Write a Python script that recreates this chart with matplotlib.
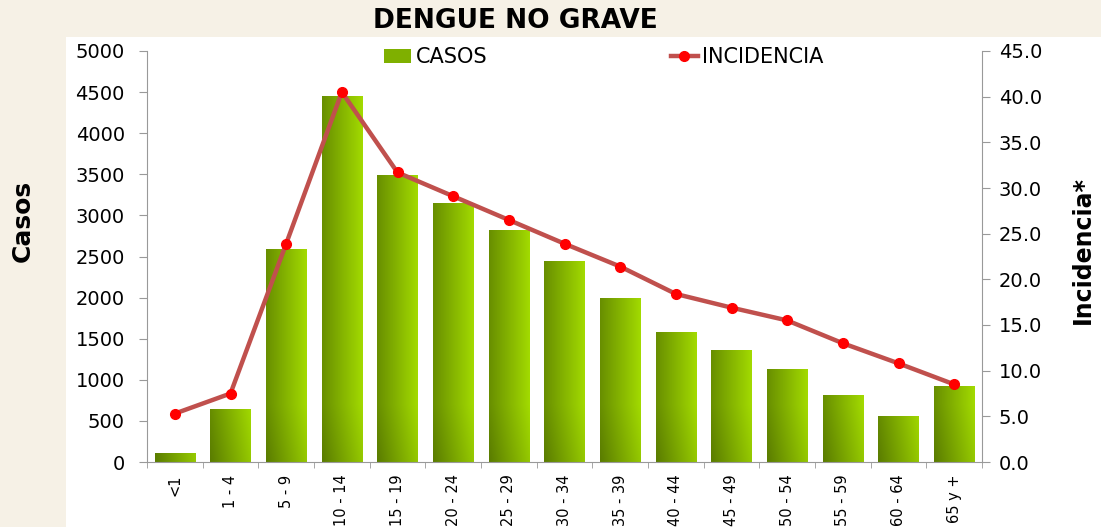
import numpy as np
import matplotlib
matplotlib.use("Agg")
import matplotlib.pyplot as plt
from matplotlib.patches import Rectangle
from matplotlib.lines import Line2D
from matplotlib.colors import LinearSegmentedColormap


grupos = ["<1", "1 - 4", "5 - 9", "10 - 14", "15 - 19", "20 - 24", "25 - 29",
          "30 - 34", "35 - 39", "40 - 44", "45 - 49", "50 - 54", "55 - 59",
          "60 - 64", "65 y +"]
casos = [110, 640, 2590, 4450, 3490, 3150, 2820, 2450, 2000, 1580, 1360,
         1130, 810, 560, 920]
incidencia = [5.3, 7.5, 23.9, 40.5, 31.7, 29.1, 26.5, 23.9, 21.4, 18.4,
              16.9, 15.5, 13.0, 10.8, 8.5]


W, H = 1101, 527
fig = plt.figure(figsize=(W / 100, H / 100), dpi=100)
fig.patch.set_facecolor("#f6f1e6")

# white panel behind the chart
fig.patches.append(
    Rectangle((66 / W, 0), 1 - 66 / W, 1 - 37 / H,
              transform=fig.transFigure, facecolor="white",
              edgecolor="none", zorder=-5)
)

ax = fig.add_axes([147 / W, 1 - 462 / H, (982 - 147) / W, (462 - 51) / H])
ax.set_facecolor("none")
ax2 = ax.twinx()

x = np.arange(len(grupos))
bars = ax.bar(x, casos, width=0.72, color="none", edgecolor="none", zorder=2)

verde = LinearSegmentedColormap.from_list("verde", ["#5a7c00", "#a2da00"])
for b in bars:
    x0, y0 = b.get_x(), b.get_y()
    w, h = b.get_width(), b.get_height()
    nx, ny = 40, 200
    u = np.linspace(0, 1, nx)[None, :]
    v = np.linspace(0, h, ny)[:, None]
    t = 0.8 * u + 0.2 * np.clip(v / 700, 0, 1)
    im = ax.imshow(t, cmap=verde, origin="lower", aspect="auto",
                   extent=[x0, x0 + w, y0, y0 + h], vmin=0, vmax=1, zorder=2)
    im.set_clip_path(b)

ax.set_xlim(-0.5, len(grupos) - 0.5)
ax.set_ylim(0, 5000)
ax.set_yticks(np.arange(0, 5001, 500))
ax.set_xticks(x)
ax.set_xticklabels(grupos, rotation=90, fontsize=10.5)
ax.set_xticks(np.arange(-0.5, len(grupos), 1), minor=True)
ax.tick_params(axis="x", which="major", length=0, pad=9)
ax.tick_params(axis="x", which="minor", length=4, color="#999999")
ax.tick_params(axis="y", length=6, color="#999999", labelsize=14, pad=10)

ax2.plot(x, incidencia, color="#c0504d", lw=3.2, marker="o", markersize=7,
         markerfacecolor="#ff0000", markeredgecolor="#ff0000", zorder=3)
ax2.set_ylim(0, 45)
ax2.set_yticks(np.arange(0, 45.1, 5))
ax2.set_yticklabels(["%.1f" % v for v in np.arange(0, 45.1, 5)])
ax2.tick_params(axis="y", length=6, color="#999999", labelsize=14, pad=6)

for a in (ax, ax2):
    a.spines["top"].set_visible(False)
    for s in ("left", "right", "bottom"):
        a.spines[s].set_color("#999999")
ax.spines["right"].set_visible(False)
ax2.spines["left"].set_visible(False)
ax2.spines["bottom"].set_visible(False)

ax.set_ylabel("Casos", fontsize=18, fontweight="bold")
ax.yaxis.set_label_coords(-0.134, 0.586)
ax2.set_ylabel("Incidencia*", fontsize=17, fontweight="bold")
ax2.yaxis.set_label_coords(1.107, 0.516)

fig.text(515 / W, 1 - 21 / H, "DENGUE NO GRAVE", ha="center", va="center",
         fontsize=19, fontweight="bold")

h1 = Rectangle((0, 0), 1, 1, facecolor="#7fb000", edgecolor="none")
h2 = Line2D([], [], color="#c0504d", lw=3.2, marker="o", markersize=7,
            markerfacecolor="#ff0000", markeredgecolor="#ff0000")
ax2.legend([h1, h2], ["CASOS", "INCIDENCIA"], ncol=2, frameon=False,
           loc="center", bbox_to_anchor=(0.547, 0.985), fontsize=15,
           columnspacing=8.8, handlelength=1.3, handletextpad=0.2)

fig.savefig("out.png", dpi=100, facecolor=fig.get_facecolor())
